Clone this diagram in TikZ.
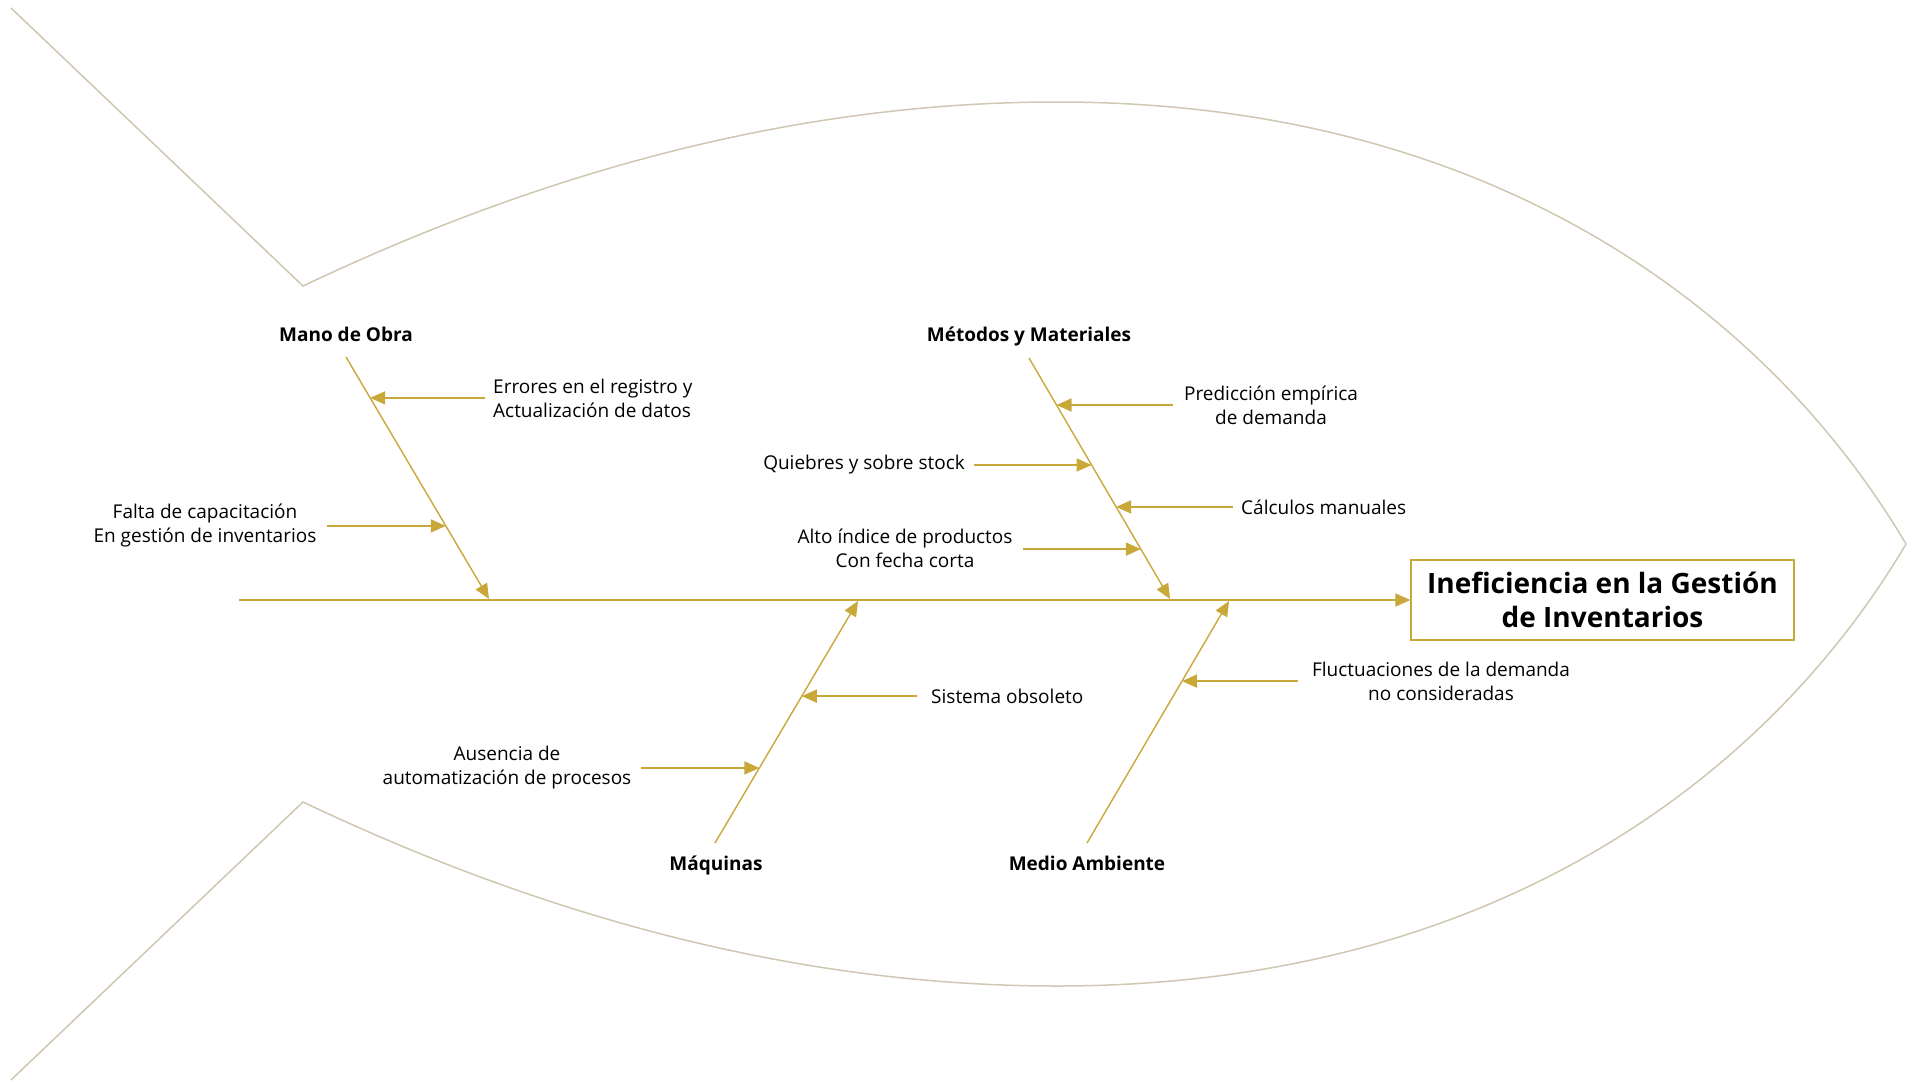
\documentclass[tikz,border=0pt]{standalone}
\usepackage{fontspec}
\setmainfont{Open Sans}
\usetikzlibrary{arrows.meta,calc}
\definecolor{bonegold}{RGB}{201,168,58}
\definecolor{fishline}{RGB}{207,199,178}
\tikzset{
  outline/.style={draw=fishline,line width=1.5pt,line join=miter},
  bone/.style={draw=bonegold,line width=1.4pt,-{Triangle[length=15pt,width=13pt]}},
  cause/.style={draw=bonegold,line width=1.8pt,-{Triangle[length=15pt,width=13pt]}},
  cat/.style={font=\fontsize{19}{24}\selectfont\bfseries,anchor=base,inner sep=0pt},
  txt/.style={font=\fontsize{19}{24}\selectfont,align=center,inner sep=0pt},
  headbox/.style={draw=bonegold,line width=1.3pt,minimum width=383pt,minimum height=80pt,
    align=center,font=\fontsize{28}{34}\selectfont\bfseries,inner sep=0pt}
}
\begin{document}
\begin{tikzpicture}[x=1pt,y=-1pt]
\useasboundingbox (0,0) rectangle (1921,1081);

% fish body and tail
\draw[outline] (11,8) -- (303,286)
  .. controls (562,163) and (813,102) .. (1057,102)
  .. controls (1507,102) and (1776,324) .. (1906,544)
  .. controls (1776,764) and (1507,986) .. (1057,986)
  .. controls (813,986) and (562,925) .. (303,802) -- (11,1080);

% head
\node[headbox] (head) at (1602.5,600) {Ineficiencia en la Gestión\\de Inventarios};

% spine
\coordinate (tail) at (239,600);
\draw[bone,line width=1.5pt] (tail) -- (head.west);

% category labels
\node[cat] (mo) at (346,341) {Mano de Obra};
\node[cat] (mm) at (1029,341) {Métodos y Materiales};
\node[cat] (maq) at (716,870) {Máquinas};
\node[cat] (ma) at (1087,870) {Medio Ambiente};

% bones
\coordinate (moS) at (346,357);  \coordinate (moE) at (489,599);
\coordinate (mmS) at (1029,358); \coordinate (mmE) at (1170,599);
\coordinate (maqS) at (715,843); \coordinate (maqE) at (858,601);
\coordinate (maS) at (1087,843); \coordinate (maE) at (1229,601);
\draw[bone] (moS) -- (moE);
\draw[bone] (mmS) -- (mmE);
\draw[bone] (maqS) -- (maqE);
\draw[bone] (maS) -- (maE);

% points where causes meet the bones
\coordinate (errH) at ($(moS)!0.169!(moE)$);
\coordinate (falH) at ($(moS)!0.698!(moE)$);
\coordinate (preH) at ($(mmS)!0.195!(mmE)$);
\coordinate (quiH) at ($(mmS)!0.444!(mmE)$);
\coordinate (calH) at ($(mmS)!0.618!(mmE)$);
\coordinate (altH) at ($(mmS)!0.793!(mmE)$);
\coordinate (sisH) at ($(maqS)!0.607!(maqE)$);
\coordinate (ausH) at ($(maqS)!0.310!(maqE)$);
\coordinate (fluH) at ($(maS)!0.669!(maE)$);

% cause texts
\node[txt,align=left,anchor=west] (err) at (493,398) {Errores en el registro y\\Actualización de datos};
\node[txt] (fal) at (205,525) {Falta de capacitación\\En gestión de inventarios};
\node[txt] (pre) at (1271,405) {Predicción empírica\\de demanda};
\node[txt,anchor=east] (qui) at (965,465) {Quiebres y sobre stock};
\node[txt,anchor=west] (cal) at (1241,507) {Cálculos manuales};
\node[txt] (alt) at (905,548) {Alto índice de productos\\Con fecha corta};
\node[txt,anchor=west] (sis) at (931,696) {Sistema obsoleto};
\node[txt] (aus) at (507,768) {Ausencia de\\automatización de procesos};
\node[txt] (flu) at (1441,681) {Fluctuaciones de la demanda\\no consideradas};

% cause arrows
\draw[cause] ($(errH)+(115,0)$) -- (errH);
\draw[cause] ($(falH)+(-119,0)$) -- (falH);
\draw[cause] ($(preH)+(116,0)$) -- (preH);
\draw[cause] ($(quiH)+(-118,0)$) -- (quiH);
\draw[cause] ($(calH)+(117,0)$) -- (calH);
\draw[cause] ($(altH)+(-118,0)$) -- (altH);
\draw[cause] ($(sisH)+(115,0)$) -- (sisH);
\draw[cause] ($(ausH)+(-118,0)$) -- (ausH);
\draw[cause] ($(fluH)+(116,0)$) -- (fluH);
\end{tikzpicture}
\end{document}
